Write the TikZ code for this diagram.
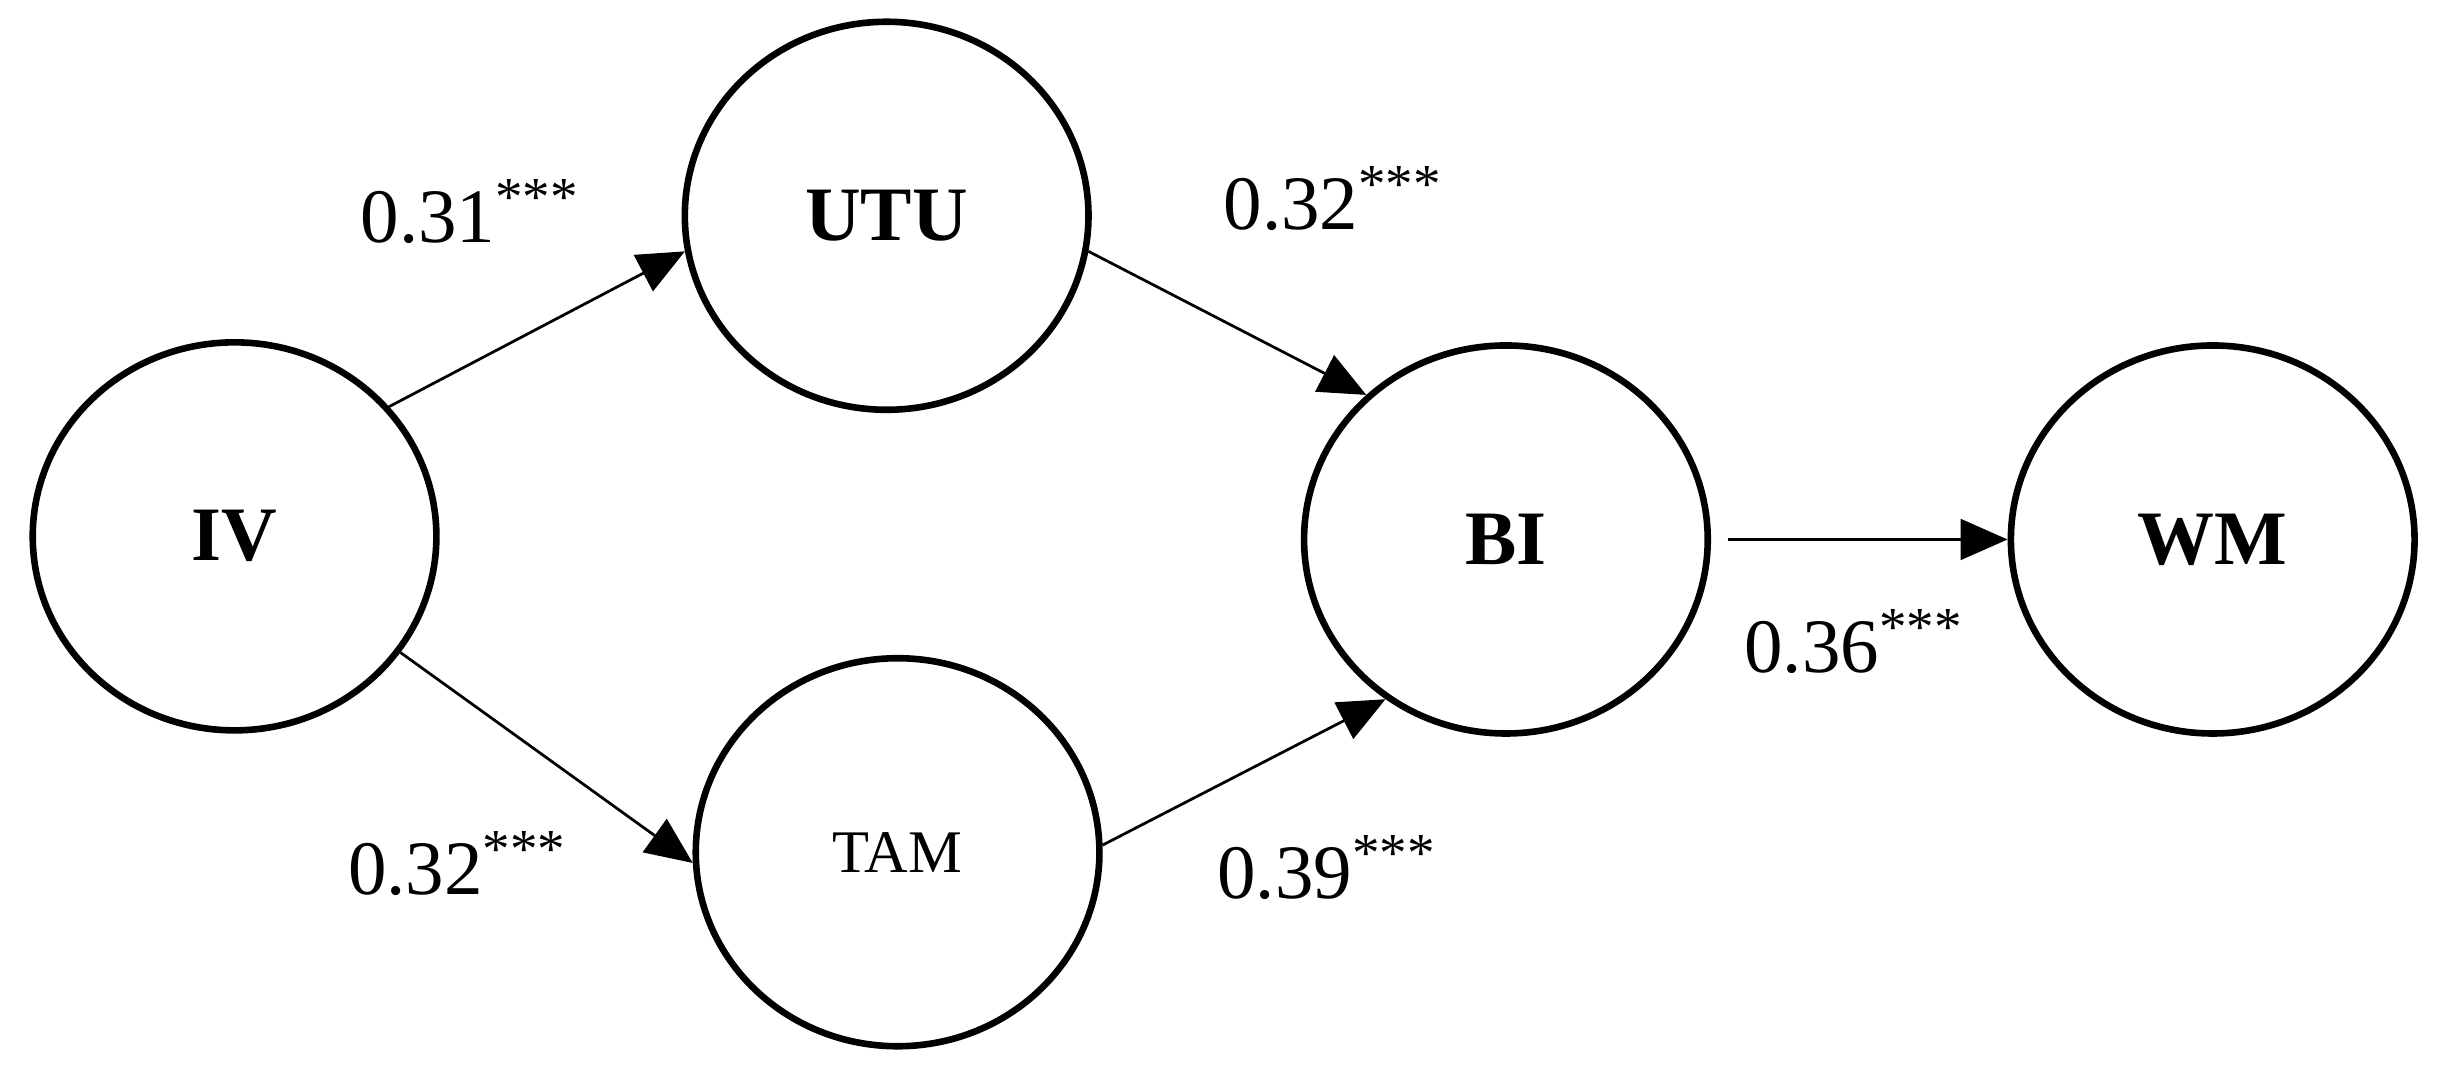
\documentclass[tikz,border=0pt]{standalone}
\usepackage{fontspec}
\setmainfont{Liberation Serif}
\usetikzlibrary{shapes.geometric,arrows.meta}
\newcommand{\stars}{\raisebox{0.35em}{\fontsize{10}{12}\selectfont ***}}
\begin{document}
\begin{tikzpicture}[x=0.01cm,y=-0.01cm,
  var/.style={ellipse,draw,line width=1.2pt,minimum width=2.58cm,minimum height=2.48cm,inner sep=0pt,font=\fontsize{14}{16}\selectfont\bfseries},
  arr/.style={line width=0.5pt,-{Triangle[length=0.3cm,width=0.26cm]}},
  lab/.style={font=\fontsize{14}{16}\selectfont}]
\useasboundingbox (0,0) rectangle (1568,692);
\node[var] (iv) at (150,343) {IV};
\node[var] (utu) at (567,138) {UTU};
\node[var,font=\fontsize{11}{13}\selectfont] (tam) at (574,545) {TAM};
\node[var] (bi) at (963,345) {BI};
\node[var] (wm) at (1415,345) {WM};
\draw[arr] (iv.40) -- (utu.190);
\draw[arr] (iv.325) -- (tam.183);
\draw[arr] (utu.350) -- (bi.134);
\draw[arr] (tam.2) -- (bi.233);
\draw[arr,shorten <=3pt] (bi.east) -- (wm.west);
\node[lab] (l1) at (300,135) {0.31\stars};
\node[lab] (l2) at (852,127) {0.32\stars};
\node[lab] (l3) at (292,552) {0.32\stars};
\node[lab] (l4) at (848,555) {0.39\stars};
\node[lab] (l5) at (1185,410) {0.36\stars};
\end{tikzpicture}
\end{document}
